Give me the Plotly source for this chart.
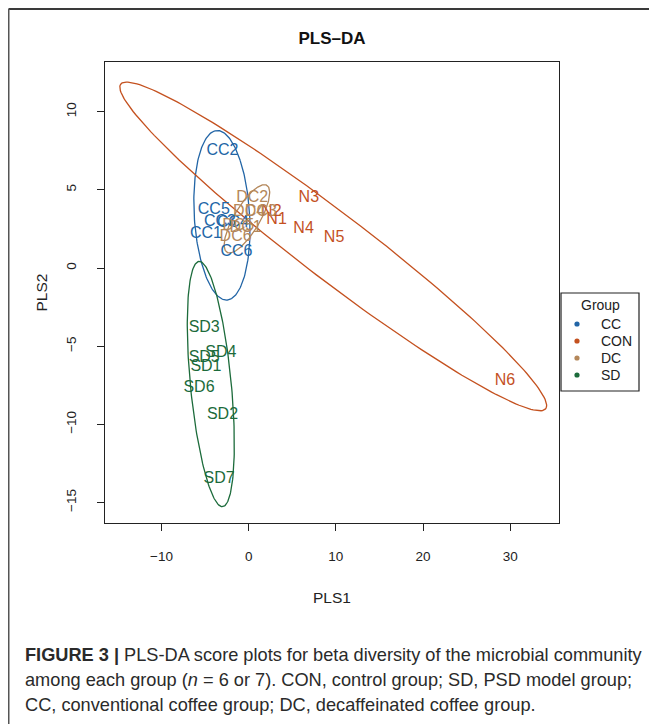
import numpy as np
import plotly.graph_objects as go

# ---------------- data ----------------
groups = ["CC", "CON", "DC", "SD"]
group_colors = ["#2265a6", "#c4511f", "#b4875a", "#1c6b3b"]

cc_names = ["CC1", "CC2", "CC3", "CC4", "CC5", "CC6"]
cc_x = [-4.9, -3.0, -3.3, -1.8, -4.0, -1.4]
cc_y = [2.2, 7.5, 2.95, 2.9, 3.7, 1.0]

con_names = ["N1", "N2", "N3", "N4", "N5", "N6"]
con_x = [3.2, 2.6, 6.9, 6.3, 9.8, 29.4]
con_y = [3.05, 3.6, 4.45, 2.5, 1.9, -7.2]

dc_names = ["DC1", "DC2", "DC3", "DC4", "DC5", "DC6"]
dc_x = [-0.35, 0.4, 1.4, 0.05, -1.2, -1.5]
dc_y = [2.55, 4.45, 3.6, 3.6, 2.7, 2.0]

sd_names = ["SD1", "SD2", "SD3", "SD4", "SD5", "SD6", "SD7"]
sd_x = [-4.9, -3.0, -5.1, -3.2, -5.1, -5.7, -3.4]
sd_y = [-6.3, -9.4, -3.85, -5.45, -5.75, -7.7, -13.5]

x_ticks = [-10, 0, 10, 20, 30]
y_ticks = [-15, -10, -5, 0, 5, 10]

caption_lines = [
    "<b>FIGURE 3 |</b> PLS-DA score plots for beta diversity of the microbial community",
    "among each group (<i>n</i> = 6 or 7). CON, control group; SD, PSD model group;",
    "CC, conventional coffee group; DC, decaffeinated coffee group.",
]

# ---------------- layout geometry ----------------
OFF = 8                      # page body margin of the html page
W, H = 657 - OFF, 724 - OFF  # figure size
L, R, T, B = 105 - OFF, 559 - OFF, 62 - OFF, 523 - OFF  # plot box (figure px)


def px_x(p):
    """page pixel x -> paper coordinate"""
    return (p - OFF - L) / (R - L)


def px_y(p):
    """page pixel y -> paper coordinate"""
    return (B - (p - OFF)) / (B - T)


def conf_ellipse(x, y, level=0.95, n=200):
    x = np.asarray(x, float)
    y = np.asarray(y, float)
    cov = np.cov(x, y)
    sx, sy = np.sqrt(cov[0, 0]), np.sqrt(cov[1, 1])
    r = cov[0, 1] / (sx * sy)
    d = np.arccos(r)
    t = np.sqrt(-2 * np.log(1 - level))
    a = np.linspace(0, 2 * np.pi, n)
    ex = t * sx * np.cos(a + d / 2) + x.mean()
    ey = t * sy * np.cos(a - d / 2) + y.mean()
    return ex, ey


FONT = "Liberation Sans, Arial, Helvetica, sans-serif"
INK = "#222222"

fig = go.Figure()

data = [
    (cc_names, cc_x, cc_y),
    (con_names, con_x, con_y),
    (dc_names, dc_x, dc_y),
    (sd_names, sd_x, sd_y),
]

for (names, xs, ys), g, col in zip(data, groups, group_colors):
    ex, ey = conf_ellipse(xs, ys)
    fig.add_trace(go.Scatter(x=ex, y=ey, mode="lines",
                             line=dict(color=col, width=1.3),
                             showlegend=False, hoverinfo="skip"))

for (names, xs, ys), g, col in zip(data, groups, group_colors):
    fig.add_trace(go.Scatter(x=xs, y=ys, mode="text", text=names, name=g,
                             textfont=dict(color=col, size=16, family=FONT),
                             textposition="middle center",
                             showlegend=False))

axis_common = dict(
    showline=True, linecolor=INK, linewidth=1.2, mirror=True,
    ticks="outside", ticklen=7, tickcolor=INK, tickwidth=1.2,
    showgrid=False, zeroline=False,
    tickfont=dict(size=13.5, family=FONT, color=INK),
)

fig.update_layout(
    width=W, height=H,
    margin=dict(l=L, r=W - R, t=T, b=H - B, pad=0),
    paper_bgcolor="white", plot_bgcolor="white",
    font=dict(family=FONT, color=INK),
    showlegend=False,
    title=dict(text="<b>PLS\u2013DA</b>", x=0.5, xref="paper",
               y=1 - (38 - OFF) / H, yref="container", yanchor="middle",
               xanchor="center", font=dict(size=17, family=FONT, color="#111")),
    xaxis=dict(range=[-16.48, 35.6], tickvals=x_ticks,
               ticklabelstandoff=14,
               title=dict(text="PLS1", font=dict(size=15.5, family=FONT), standoff=28),
               **axis_common),
    yaxis=dict(range=[-16.31, 13.18], tickvals=y_ticks, tickangle=-90,
               ticklabelstandoff=16,
               title=dict(text="PLS2", font=dict(size=15.5, family=FONT), standoff=12),
               **axis_common),
)

# ---------------- legend (drawn as a boxed key, like the R legend) ----------------
fig.add_shape(type="rect", xref="paper", yref="paper",
              x0=px_x(561), x1=px_x(639), y0=px_y(293), y1=px_y(391),
              line=dict(color=INK, width=1.2), fillcolor="white", layer="above")
fig.add_annotation(text="Group", xref="paper", yref="paper",
                   x=px_x(600), y=px_y(305), xanchor="center", yanchor="middle",
                   showarrow=False, font=dict(size=14, family=FONT, color=INK))
for i, (g, col) in enumerate(zip(groups, group_colors)):
    yc = 324 + 17 * i
    fig.add_shape(type="circle", xref="paper", yref="paper",
                  x0=px_x(577 - 2.6), x1=px_x(577 + 2.6),
                  y0=px_y(yc - 2.6), y1=px_y(yc + 2.6),
                  line=dict(color=col, width=0), fillcolor=col, layer="above")
    fig.add_annotation(text=g, xref="paper", yref="paper",
                       x=px_x(599), y=px_y(yc), xanchor="left", yanchor="middle",
                       showarrow=False, font=dict(size=14, family=FONT, color=INK))

# ---------------- outer figure frame (left and top edges visible) ----------------
fig.add_shape(type="line", xref="paper", yref="paper",
              x0=px_x(8.5), x1=px_x(700), y0=px_y(9), y1=px_y(9),
              line=dict(color="#3a3a3a", width=2))
fig.add_shape(type="line", xref="paper", yref="paper",
              x0=px_x(8.75), x1=px_x(8.75), y0=px_y(9), y1=px_y(800),
              line=dict(color="#555555", width=1.5))

for i, line in enumerate(caption_lines):
    fig.add_annotation(text=line, xref="paper", yref="paper",
                       x=px_x(23), y=px_y(655 + 25 * i),
                       xanchor="left", yanchor="middle", showarrow=False,
                       font=dict(size=18.2, family=FONT, color="#2a2a2a"))

fig.write_html("out.html")
